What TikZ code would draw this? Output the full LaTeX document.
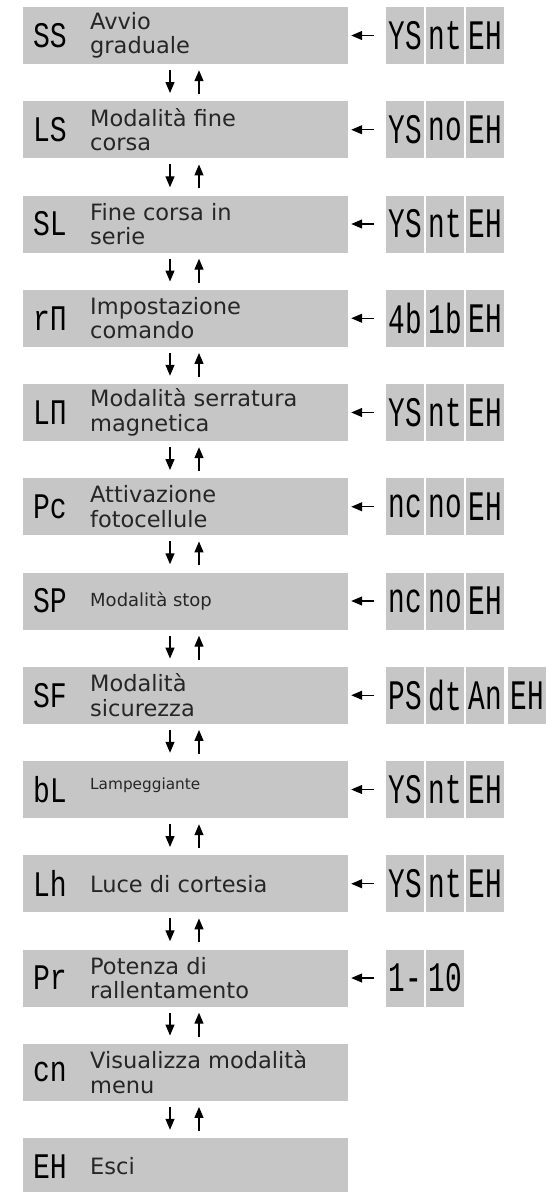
\documentclass[tikz,border=0pt]{standalone}
\usepackage{fontspec}
\usepackage{graphicx}
\setmainfont{DejaVu Sans}
\newfontfamily\segfont{Liberation Mono}
\usetikzlibrary{arrows.meta}
\definecolor{boxgray}{HTML}{C6C6C6}
\definecolor{txt}{HTML}{262626}
\newcommand\sg[1]{\scalebox{0.78}[1]{#1}}
\newcommand\sgb[1]{\scalebox{0.66}[1]{#1}}
\tikzset{
  mainbox/.style={fill=boxgray, minimum width=325pt, minimum height=57pt, inner sep=0pt},
  codebox/.style={fill=boxgray, minimum width=38pt, minimum height=57pt, inner sep=0pt,
    text=black, font=\segfont\fontsize{42}{42}\selectfont},
  maincode/.style={inner sep=0pt, text=black, font=\segfont\fontsize{36}{36}\selectfont},
  lbl/.style={anchor=west, inner sep=0pt, align=left, text=txt, font=\fontsize{22.5}{24.5}\selectfont},
  lblsmall/.style={lbl, font=\fontsize{18}{20}\selectfont},
  lbltiny/.style={lbl, font=\fontsize{15.3}{17}\selectfont},
  arr/.style={-{Triangle[length=11pt,width=9pt]}, line width=1.3pt, black},
  dn/.style={arr, shorten <=6pt, shorten >=8pt},
  up/.style={arr, shorten <=7pt, shorten >=6pt},
  lt/.style={arr, shorten <=12pt, shorten >=3pt},
}
\begin{document}
\begin{tikzpicture}[x=1pt,y=-1pt]
\useasboundingbox (0,0) rectangle (558,1192);
\fill[white] (0,0) rectangle (558,1192);

% main boxes
\node[mainbox] (m1)  at (185.5,35.5)   {};
\node[mainbox] (m2)  at (185.5,129.75) {};
\node[mainbox] (m3)  at (185.5,224)    {};
\node[mainbox] (m4)  at (185.5,318.25) {};
\node[mainbox] (m5)  at (185.5,412.5)  {};
\node[mainbox] (m6)  at (185.5,506.75) {};
\node[mainbox] (m7)  at (185.5,601)    {};
\node[mainbox] (m8)  at (185.5,695.25) {};
\node[mainbox] (m9)  at (185.5,789.5)  {};
\node[mainbox] (m10) at (185.5,883.75) {};
\node[mainbox] (m11) at (185.5,978)    {};
\node[mainbox] (m12) at (185.5,1072.25){};
\node[mainbox] (m13) at (185.5,1166.5) {};

% codes in main boxes
\node[maincode] (k1)  at (50,35.5)   {\sg{SS}};
\node[maincode] (k2)  at (50,129.75) {\sg{LS}};
\node[maincode] (k3)  at (50,224)    {\sg{SL}};
\node[maincode] (k4)  at (50,318.25) {\sg{rΠ}};
\node[maincode] (k5)  at (50,412.5)  {\sg{LΠ}};
\node[maincode] (k6)  at (50,506.75) {\sg{Pc}};
\node[maincode] (k7)  at (50,601)    {\sg{SP}};
\node[maincode] (k8)  at (50,695.25) {\sg{SF}};
\node[maincode] (k9)  at (50,789.5)  {\sg{bL}};
\node[maincode] (k10) at (50,883.75) {\sg{Lh}};
\node[maincode] (k11) at (50,978)    {\sg{Pr}};
\node[maincode] (k12) at (50,1072.25){\sg{cn}};
\node[maincode] (k13) at (50,1166.5) {\sg{EH}};

% labels
\node[lbl] (l1)  at (90,35.5)   {Avvio\\graduale};
\node[lbl] (l2)  at (90,129.75) {Modalità fine\\corsa};
\node[lbl] (l3)  at (90,224)    {Fine corsa in\\serie};
\node[lbl] (l4)  at (90,318.25) {Impostazione\\comando};
\node[lbl] (l5)  at (90,412.5)  {Modalità serratura\\magnetica};
\node[lbl] (l6)  at (90,506.75) {Attivazione\\fotocellule};
\node[lblsmall] (l7)  at (90,601)    {Modalità stop};
\node[lbl] (l8)  at (90,695.25) {Modalità\\sicurezza};
\node[lbltiny] (l9)  at (90,785) {Lampeggiante};
\node[lbl] (l10) at (90,883.75) {Luce di cortesia};
\node[lbl] (l11) at (90,978)    {Potenza di\\rallentamento};
\node[lbl] (l12) at (90,1072.25){Visualizza modalità\\menu};
\node[lbl] (l13) at (90,1166.5) {Esci};

% option boxes
\node[codebox] (c1a) at (405,35.5) {\sgb{YS}};
\node[codebox] (c1b) at (445,35.5) {\sgb{nt}};
\node[codebox] (c1c) at (485,35.5) {\sgb{EH}};
\node[codebox] (c2a) at (405,129.75) {\sgb{YS}};
\node[codebox] (c2b) at (445,129.75) {\sgb{no}};
\node[codebox] (c2c) at (485,129.75) {\sgb{EH}};
\node[codebox] (c3a) at (405,224) {\sgb{YS}};
\node[codebox] (c3b) at (445,224) {\sgb{nt}};
\node[codebox] (c3c) at (485,224) {\sgb{EH}};
\node[codebox] (c4a) at (405,318.25) {\sgb{4b}};
\node[codebox] (c4b) at (445,318.25) {\sgb{1b}};
\node[codebox] (c4c) at (485,318.25) {\sgb{EH}};
\node[codebox] (c5a) at (405,412.5) {\sgb{YS}};
\node[codebox] (c5b) at (445,412.5) {\sgb{nt}};
\node[codebox] (c5c) at (485,412.5) {\sgb{EH}};
\node[codebox] (c6a) at (405,506.75) {\sgb{nc}};
\node[codebox] (c6b) at (445,506.75) {\sgb{no}};
\node[codebox] (c6c) at (485,506.75) {\sgb{EH}};
\node[codebox] (c7a) at (405,601) {\sgb{nc}};
\node[codebox] (c7b) at (445,601) {\sgb{no}};
\node[codebox] (c7c) at (485,601) {\sgb{EH}};
\node[codebox] (c8a) at (405,695.25) {\sgb{PS}};
\node[codebox] (c8b) at (445,695.25) {\sgb{dt}};
\node[codebox] (c8c) at (485,695.25) {\sgb{An}};
\node[codebox] (c8d) at (527,695.25) {\sgb{EH}};
\node[codebox] (c9a) at (405,789.5) {\sgb{YS}};
\node[codebox] (c9b) at (445,789.5) {\sgb{nt}};
\node[codebox] (c9c) at (485,789.5) {\sgb{EH}};
\node[codebox] (c10a) at (405,883.75) {\sgb{YS}};
\node[codebox] (c10b) at (445,883.75) {\sgb{nt}};
\node[codebox] (c10c) at (485,883.75) {\sgb{EH}};
\node[codebox] (c11a) at (405,978) {\sgb{1-}};
\node[codebox] (c11b) at (445,978) {\sgb{10}};

% left arrows
\foreach \r in {1,...,11} {
  \draw[lt] (c\r a.west) -- (m\r.east);
}

% vertical arrows
\foreach \r [evaluate=\r as \s using int(\r+1)] in {1,...,12} {
  \draw[dn] ([xshift=-15.5pt]m\r.south) -- ([xshift=-15.5pt]m\s.north);
  \draw[up] ([xshift=13.5pt]m\s.north) -- ([xshift=13.5pt]m\r.south);
}
\end{tikzpicture}
\end{document}
